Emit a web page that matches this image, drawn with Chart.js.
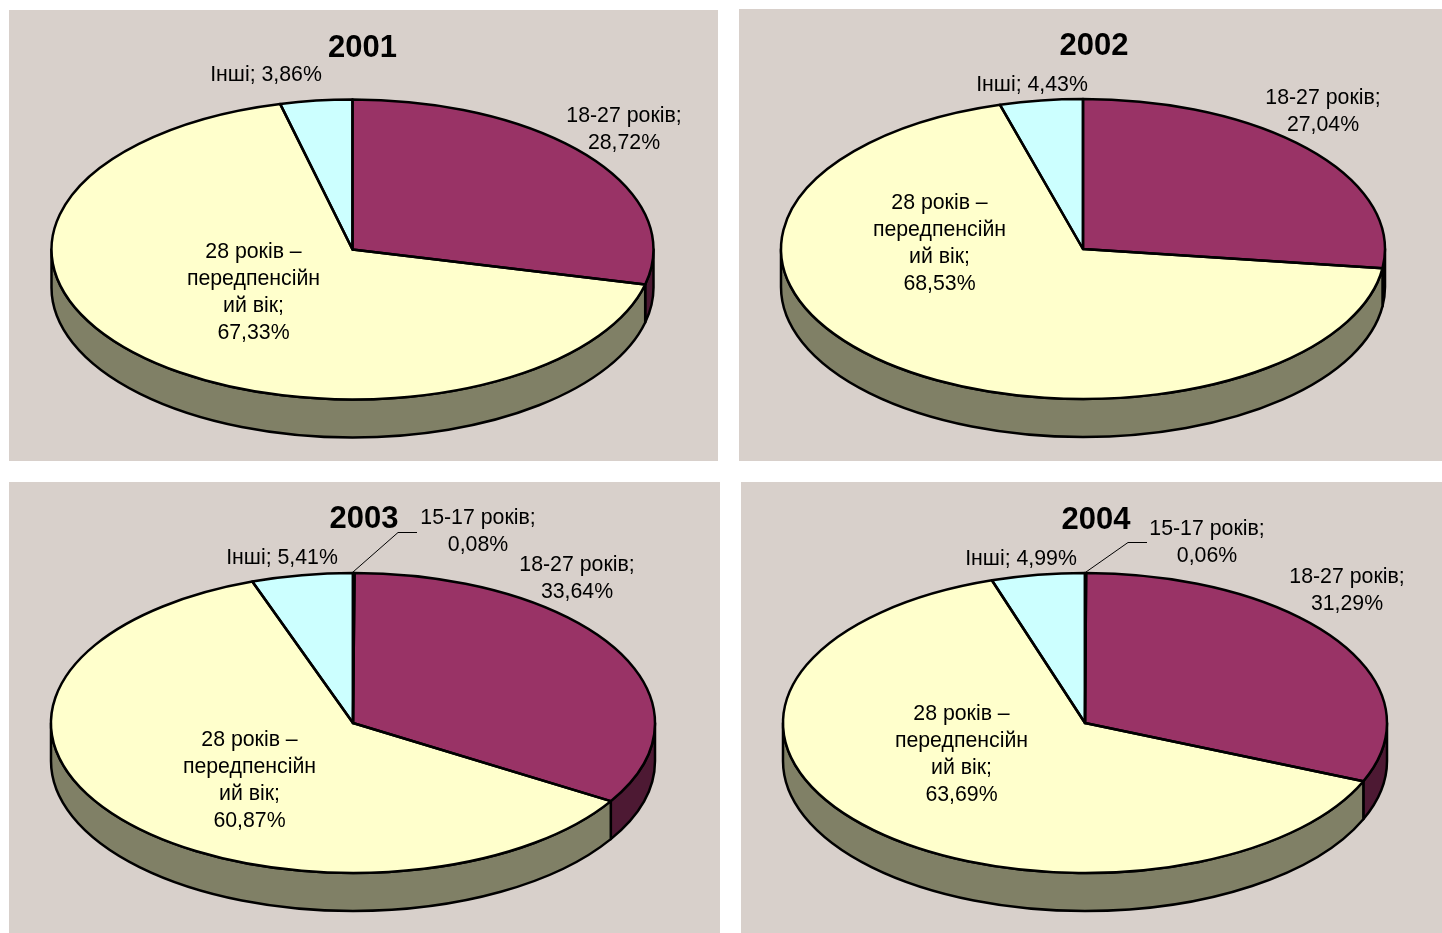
<!DOCTYPE html>
<html lang="uk">
<head>
<meta charset="utf-8">
<title>Вікова структура, 2001-2004</title>
<script src="https://cdn.jsdelivr.net/npm/chart.js@4"></script>
<style>
  html, body { margin: 0; padding: 0; background: #fff; overflow: hidden; }
  .panel { position: absolute; background: #d8d0cb; }
  canvas { position: absolute; }
</style>
</head>
<body>
<script>
  var categories = ['15-17 років', '18-27 років', '28 років – передпенсійний вік', 'Інші'];
  var labelLines = [['15-17 років;'], ['18-27 років;'], ['28 років –', 'передпенсійн', 'ий вік;'], ['Інші;']];

  var years = ['2001', '2002', '2003', '2004'];
  var values2001 = [null, 28.72, 67.33, 3.86];
  var values2002 = [null, 27.04, 68.53, 4.43];
  var values2003 = [0.08, 33.64, 60.87, 5.41];
  var values2004 = [0.06, 31.29, 63.69, 4.99];

  var topColors = ['#808080', '#993366', '#ffffcc', '#ccffff'];
  var sideColors = ['#404040', '#4d1933', '#808066', '#668080'];

  var FONT = '"Liberation Sans", Arial, sans-serif';
  var LABEL_SIZE = 21.3, LINE_H = 27, TITLE_SIZE = 31;
  var RY = 150, DEPTH = 38;

  // positions in page pixels
  var layouts = [
    { values: values2001, panel: [9, 10, 709, 451], canvasX: 9, titleX: 362.5, cx: 352.5, cy: 249.5, rx: 301, titleY: 48,
      labels: [null, [624, 116], [253.5, 252], [266, 75]] },
    { values: values2002, panel: [739, 9, 703, 452], canvasX: 746, titleX: 1094, cx: 1083, cy: 249, rx: 302, titleY: 46,
      labels: [null, [1323, 98], [939.5, 203], [1032, 85]] },
    { values: values2003, panel: [9, 482, 711, 451], canvasX: 9, titleX: 364, cx: 353, cy: 723, rx: 302, titleY: 519,
      labels: [[478, 518], [577, 565], [249.5, 740], [282, 558]],
      leader: [[353, 572], [398, 532.5], [417, 532.5]] },
    { values: values2004, panel: [741, 482, 701, 451], canvasX: 750, titleX: 1096, cx: 1085, cy: 723, rx: 302, titleY: 520,
      labels: [[1207, 529], [1347, 577], [961.5, 714], [1021, 559]],
      leader: [[1086, 572], [1128, 542.5], [1147, 542.5]] }
  ];

  function percent(v) { return v.toFixed(2).replace('.', ',') + '%'; }

  var pie3d = {
    id: 'pie3d',
    // the title sits off the pie's centre in the original
    afterLayout: function (chart, args, opts) {
      chart.titleBlock.left += opts.titleShift;
      chart.titleBlock.right += opts.titleShift;
    },
    beforeDatasetsDraw: function (chart, args, opts) {
      var ctx = chart.ctx;
      var arcs = chart.getDatasetMeta(0).data;
      ctx.save();
      ctx.lineWidth = 2.5;
      ctx.strokeStyle = '#000';
      ctx.lineJoin = 'round';
      // side wall: only the front half of the pie shows
      arcs.forEach(function (arc, i) {
        var a = Math.max(arc.startAngle, 0);
        var b = Math.min(arc.endAngle, Math.PI);
        if (b <= a) return;
        var r = arc.outerRadius, ry = r * RY / opts.rx;
        ctx.beginPath();
        ctx.ellipse(arc.x, arc.y, r, ry, 0, a, b);
        ctx.ellipse(arc.x, arc.y + DEPTH, r, ry, 0, b, a, true);
        ctx.closePath();
        ctx.fillStyle = sideColors[i];
        ctx.fill();
        ctx.stroke();
      });
      ctx.restore();
      // flatten the library's round pie into the ellipse
      var c = arcs[0];
      ctx.save();
      ctx.translate(c.x, c.y);
      ctx.scale(1, RY / opts.rx);
      ctx.translate(-c.x, -c.y);
    },
    afterDatasetsDraw: function (chart, args, opts) {
      var ctx = chart.ctx;
      var arcs = chart.getDatasetMeta(0).data;
      ctx.restore();
      ctx.save();
      ctx.lineWidth = 2.5;
      ctx.strokeStyle = '#000';
      ctx.lineJoin = 'round';
      arcs.forEach(function (arc) {
        if (arc.endAngle <= arc.startAngle) return;
        ctx.beginPath();
        ctx.moveTo(arc.x, arc.y);
        ctx.ellipse(arc.x, arc.y, arc.outerRadius, arc.outerRadius * RY / opts.rx, 0, arc.startAngle, arc.endAngle);
        ctx.closePath();
        ctx.stroke();
      });
      // leader line
      if (opts.leader) {
        ctx.lineWidth = 1;
        ctx.beginPath();
        opts.leader.forEach(function (p, i) {
          if (i === 0) ctx.moveTo(p[0] - opts.left, p[1] - opts.top);
          else ctx.lineTo(p[0] - opts.left, p[1] - opts.top);
        });
        ctx.stroke();
      }
      // data labels
      var vals = chart.data.datasets[0].data;
      ctx.fillStyle = '#000';
      ctx.font = LABEL_SIZE + 'px ' + FONT;
      ctx.textAlign = 'center';
      ctx.textBaseline = 'middle';
      opts.labels.forEach(function (pos, i) {
        if (!pos) return;
        var lines = labelLines[i].slice();
        if (i === 3) lines = [lines[0] + ' ' + percent(vals[i])];
        else lines.push(percent(vals[i]));
        lines.forEach(function (t, k) {
          ctx.fillText(t, pos[0] - opts.left, pos[1] - opts.top + k * LINE_H);
        });
      });
      ctx.restore();
    }
  };

  layouts.forEach(function (L, n) {
    var p = L.panel;
    var div = document.createElement('div');
    div.className = 'panel';
    div.style.cssText = 'left:' + p[0] + 'px;top:' + p[1] + 'px;width:' + p[2] + 'px;height:' + p[3] + 'px';
    document.body.appendChild(div);

    var w = 2 * (L.titleX - L.canvasX), h = p[3];
    var cv = document.createElement('canvas');
    cv.width = w;
    cv.height = h;
    cv.style.cssText = 'left:' + L.canvasX + 'px;top:' + p[1] + 'px;width:' + w + 'px;height:' + h + 'px';
    document.body.appendChild(cv);

    // title block height pushes the chart area down, padding puts the centre back
    var pad = L.titleY - p[1] - TITLE_SIZE * 0.6;
    var block = pad + TITLE_SIZE * 1.2;
    new Chart(cv, {
      type: 'pie',
      data: {
        labels: categories,
        datasets: [{ data: L.values, backgroundColor: topColors, borderWidth: 0, radius: L.rx, clip: false }]
      },
      options: {
        responsive: false,
        animation: false,
        layout: { padding: { right: 2 * (L.titleX - L.cx), bottom: block + h - 2 * (L.cy - p[1]) } },
        plugins: {
          legend: { display: false },
          tooltip: { enabled: false },
          title: {
            display: true, text: years[n], color: '#000',
            font: { family: FONT, size: TITLE_SIZE, weight: 'bold' },
            padding: { top: pad, bottom: 0 }
          },
          pie3d: { rx: L.rx, left: L.canvasX, top: p[1], labels: L.labels, leader: L.leader, titleShift: L.titleX - L.cx }
        }
      },
      plugins: [pie3d]
    });
  });
</script>
</body>
</html>
